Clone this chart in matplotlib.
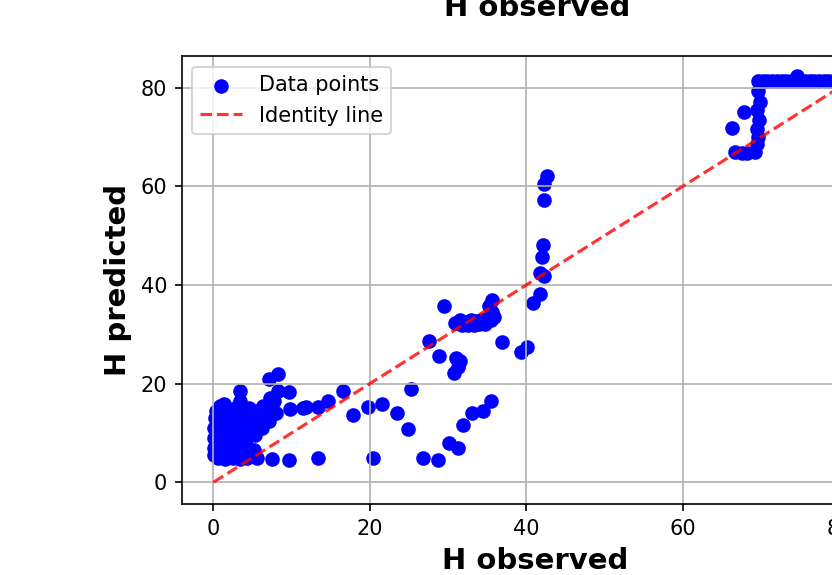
import matplotlib.pyplot as plt

# observed vs predicted H values
h_observed = [
    # low cluster
    0.1, 0.1, 0.1, 0.1, 0.2, 0.3,
    0.6, 0.6, 0.6, 0.7, 0.8,
    1.5, 1.5, 1.4, 1.6, 1.5, 1.3,
    2.5, 2.4, 2.6, 2.5, 2.7,
    3.4, 3.3, 3.5, 3.4, 3.3, 3.4, 3.4,
    4.3, 4.2, 4.4, 4.3, 4.5,
    5.2, 5.3, 5.1, 5.4,
    6.2, 6.0, 6.3,
    7.1, 7.0, 7.2, 7.1,
    8.0, 7.8, 8.2, 8.2,
    9.6, 9.8, 11.5, 5.6, 7.5, 9.6,
    # middle low
    13.4, 20.4, 26.8, 28.7,
    11.8, 13.4, 14.7, 16.5, 17.9, 19.8, 21.5, 23.5, 24.9, 25.3,
    30.1, 31.2, 31.9, 33.1, 34.5, 35.5,
    # middle
    27.5, 28.8, 29.5, 31.0, 31.2, 30.8, 31.5,
    30.9, 31.5, 32.2, 32.9, 33.5, 34.2, 34.8, 35.5, 35.9, 35.6, 35.6, 35.2,
    31.8, 32.6, 33.3, 34.0, 34.7,
    36.9, 39.3, 40.1,
    40.9, 41.8, 41.7, 42.3, 42.0, 42.1, 42.2, 42.2, 42.6,
    # high
    66.3, 67.8, 66.7, 67.5, 68.2, 69.2, 69.5, 69.6, 69.5, 69.7, 69.5, 69.8, 69.6,
    69.6, 70.2, 70.8, 71.4, 72.0, 72.6, 73.2, 73.8, 74.4, 75.0, 75.6, 76.2,
    76.8, 77.4, 78.0, 78.6, 79.2, 79.8, 80.4, 81.0, 81.6, 82.2,
    74.6,
]
h_predicted = [
    5.5, 7.0, 9.0, 11.0, 13.0, 14.5,
    5.0, 8.0, 10.0, 12.0, 15.5,
    4.8, 6.5, 9.0, 11.5, 14.0, 15.8,
    5.0, 7.5, 10.0, 12.5, 15.0,
    4.7, 6.5, 9.0, 11.5, 14.0, 16.5, 18.5,
    5.0, 7.5, 10.0, 12.5, 15.0,
    6.5, 9.5, 12.0, 14.5,
    11.0, 13.5, 15.5,
    12.5, 15.0, 17.0, 21.0,
    14.0, 16.5, 18.5, 22.0,
    18.3, 14.8, 15.0, 4.9, 4.8, 4.6,
    4.9, 4.9, 5.0, 4.5,
    15.3, 15.3, 16.5, 18.6, 13.7, 15.3, 15.9, 14.1, 10.8, 18.9,
    7.9, 6.9, 11.6, 14.0, 14.5, 16.5,
    28.6, 25.6, 35.8, 25.2, 23.4, 22.2, 24.5,
    32.2, 32.8, 32.5, 32.9, 32.6, 32.8, 33.0, 32.9, 33.4, 34.6, 37.0, 35.8,
    31.8, 31.9, 31.8, 32.0, 32.1,
    28.5, 26.5, 27.4,
    36.3, 38.1, 42.5, 41.8, 45.7, 48.1, 57.3, 60.5, 62.0,
    71.9, 75.0, 67.0, 66.8, 66.8, 67.0, 68.5, 70.0, 71.6, 73.5, 75.5, 77.0, 79.2,
    81.3, 81.3, 81.3, 81.3, 81.3, 81.3, 81.3, 81.3, 81.3, 81.3, 81.3, 81.3,
    81.3, 81.3, 81.3, 81.3, 81.3, 81.3, 81.3, 81.3, 81.3, 81.3,
    82.3,
]

lo = min(min(h_observed), min(h_predicted), 0)
hi = max(max(h_observed), max(h_predicted))

fig = plt.figure(figsize=(832 / 150, 575 / 150), dpi=150)
ax = fig.add_axes([0.2184, 0.1235, 0.8507, 0.7783])

ax.scatter(h_observed, h_predicted, c='b', label='Data points')
ax.plot([lo, hi], [lo, hi], 'r--', alpha=0.8, label='Identity line')

ax.set_xlim(-4.05, 86.4)
ax.set_ylim(-4.4, 86.3)
ax.set_xticks([0, 20, 40, 60, 80])
ax.set_yticks([0, 20, 40, 60, 80])
ax.set_xlabel('H observed', fontsize=14, fontweight='bold')
ax.set_ylabel('H predicted', fontsize=14, fontweight='bold')
ax.grid(True)
ax.legend(loc='upper left')

# label of the panel above
fig.text(537 / 832, 1 - 16 / 575, 'H observed', ha='center', va='baseline',
         fontsize=14, fontweight='bold')

fig.savefig('out.png', dpi=150)
